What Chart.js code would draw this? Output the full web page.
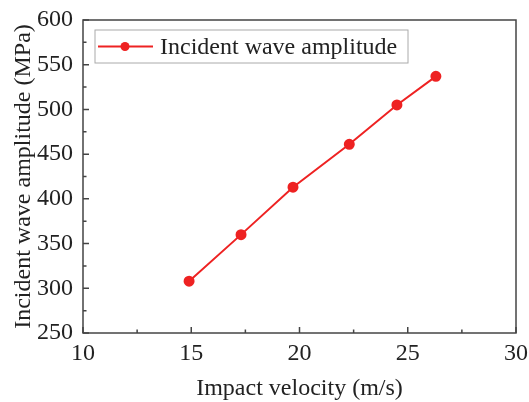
<!DOCTYPE html>
<html lang="en">
<head>
<meta charset="UTF-8">
<title>Incident wave amplitude</title>
<script src="https://cdn.jsdelivr.net/npm/chart.js"></script>
<style>
    html, body { margin: 0; padding: 0; background: #fff; }
    #wrap { width: 529px; height: 402px; }
</style>
</head>
<body>
<div id="wrap"><canvas id="chart"></canvas></div>
<script>
// data
const velocity = [14.9, 17.3, 19.7, 22.3, 24.5, 26.3];
const amplitude = [308, 360, 413, 461, 505, 537];
const xTicks = [10, 15, 20, 25, 30];
const yTicks = [250, 300, 350, 400, 450, 500, 550, 600];
const seriesName = "Incident wave amplitude";

const RED = "#ee2222";
const AXIS = "#444";
const FONT = "'Liberation Serif', 'Times New Roman', serif";

// frame, inward major/minor ticks and the in-plot legend
const framePlugin = {
    id: "frame",
    afterDraw(chart) {
        const ctx = chart.ctx, a = chart.chartArea;
        const xs = chart.scales.x, ys = chart.scales.y;
        ctx.save();
        ctx.strokeStyle = AXIS;
        ctx.lineWidth = 1.5;
        ctx.strokeRect(a.left, a.top, a.right - a.left, a.bottom - a.top);
        ctx.beginPath();
        for (let i = 0; i < xTicks.length; i++) {
            const px = xs.getPixelForValue(xTicks[i]);
            ctx.moveTo(px, a.bottom); ctx.lineTo(px, a.bottom - 6);
            if (i < xTicks.length - 1) {
                const mx = xs.getPixelForValue((xTicks[i] + xTicks[i + 1]) / 2);
                ctx.moveTo(mx, a.bottom); ctx.lineTo(mx, a.bottom - 3.5);
            }
        }
        for (let i = 0; i < yTicks.length; i++) {
            const py = ys.getPixelForValue(yTicks[i]);
            ctx.moveTo(a.left, py); ctx.lineTo(a.left + 6, py);
            if (i < yTicks.length - 1) {
                const my = ys.getPixelForValue((yTicks[i] + yTicks[i + 1]) / 2);
                ctx.moveTo(a.left, my); ctx.lineTo(a.left + 3.5, my);
            }
        }
        ctx.stroke();

        // legend box
        const bx = a.left + 12, by = a.top + 10, bw = 313, bh = 33;
        ctx.fillStyle = "#fff";
        ctx.fillRect(bx, by, bw, bh);
        ctx.strokeStyle = "#aaa";
        ctx.lineWidth = 1;
        ctx.strokeRect(bx, by, bw, bh);
        const cy = by + bh / 2;
        ctx.strokeStyle = RED;
        ctx.lineWidth = 2;
        ctx.beginPath();
        ctx.moveTo(bx + 3, cy); ctx.lineTo(bx + 58, cy);
        ctx.stroke();
        ctx.fillStyle = RED;
        ctx.beginPath();
        ctx.arc(bx + 30, cy, 4.5, 0, Math.PI * 2);
        ctx.fill();
        ctx.fillStyle = "#222";
        ctx.font = "24px " + FONT;
        ctx.textBaseline = "middle";
        ctx.textAlign = "left";
        ctx.fillText(seriesName, bx + 65, cy + 1);
        ctx.restore();
    }
};

new Chart(document.getElementById("chart"), {
    type: "line",
    data: {
        datasets: [{
            label: seriesName,
            data: velocity.map((v, i) => ({ x: v, y: amplitude[i] })),
            borderColor: RED,
            backgroundColor: RED,
            borderWidth: 2,
            pointRadius: 4.5,
            pointHoverRadius: 4.5,
            tension: 0
        }]
    },
    options: {
        responsive: true,
        maintainAspectRatio: false,
        animation: false,
        layout: { padding: { top: 20, right: 13, left: 5, bottom: 0 } },
        plugins: { legend: { display: false }, tooltip: { enabled: false } },
        scales: {
            x: {
                type: "linear",
                min: 10, max: 30,
                afterBuildTicks: s => { s.ticks = xTicks.map(v => ({ value: v })); },
                afterFit: s => { s.height = 69; },
                grid: { display: false },
                border: { display: false },
                ticks: { color: "#222", font: { family: FONT, size: 24 }, padding: -2 },
                title: { display: true, text: "Impact velocity (m/s)", color: "#222",
                         font: { family: FONT, size: 24 }, padding: { top: 4, bottom: -1 } }
            },
            y: {
                type: "linear",
                min: 250, max: 600,
                afterBuildTicks: s => { s.ticks = yTicks.map(v => ({ value: v })); },
                afterFit: s => { s.width = 78; },
                grid: { display: false },
                border: { display: false },
                ticks: { color: "#222", font: { family: FONT, size: 24 }, padding: 2 },
                title: { display: true, text: "Incident wave amplitude (MPa)", color: "#222",
                         font: { family: FONT, size: 24 }, padding: { bottom: 0 } }
            }
        }
    },
    plugins: [framePlugin]
});
</script>
</body>
</html>
